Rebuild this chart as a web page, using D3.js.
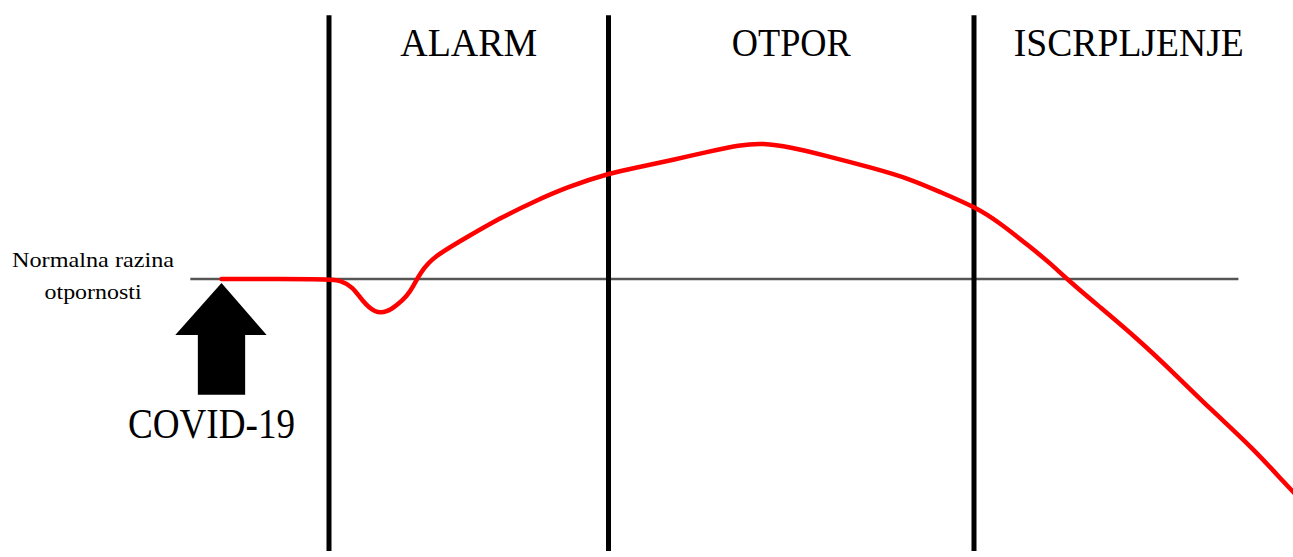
<!DOCTYPE html>
<html>
<head>
<meta charset="utf-8">
<script src="https://cdn.jsdelivr.net/npm/d3@7/dist/d3.min.js"></script>
<style>
  html, body { margin: 0; padding: 0; background: #fff; }
  svg { display: block; }
  text { font-family: "Liberation Serif", "Times New Roman", serif; fill: #000; }
</style>
</head>
<body>
<svg id="chart" width="1293" height="557"></svg>
<script>
// ---- data ----
const phases = ["ALARM", "OTPOR", "ISCRPLJENJE"];
const phaseBounds = [10, 36, 70, 100];          // time units where each phase starts/ends
const normalLevel = 100;
const normalLabel = ["Normalna razina", "otpornosti"];
const stressorLabel = "COVID-19";
const curveTime  = [0, 10, 11.02, 12.23, 13.07, 14.28, 15.4, 16.33, 17.26, 17.81, 18.47, 19.67, 22.84, 25.91, 28.98, 32.14, 36.14, 38.93, 42, 45.16, 48.23, 50.37, 52.9, 55.98, 60.6, 64.05, 66.84, 70.1, 72.42, 75.21, 77.07, 78.74, 81.72, 85.16, 88.5, 91.95, 95.95, 99.12, 100];
const curveLevel = [100, 100, 99.6, 97.1, 92.0, 87.4, 87.8, 90.4, 93.8, 97.1, 102.2, 108.1, 115.4, 122.4, 128.3, 133.8, 139, 141.2, 143.8, 146.7, 149.3, 150, 148.5, 145.6, 140.8, 136.8, 132, 126.5, 120.6, 111.8, 105.9, 99.6, 89.7, 78.2, 65.8, 52.3, 37.8, 24.0, 20.5];

// ---- scales ----
const x = d3.scaleLinear().domain([0, 100]).range([221.5, 1296.5]);
const y = d3.scaleLinear().domain([0, 200]).range([551, 7]);

const svg = d3.select("#chart");

// normal level line
svg.append("line")
  .attr("x1", x(-2.9)).attr("x2", x(94.6))
  .attr("y1", y(normalLevel)).attr("y2", y(normalLevel))
  .attr("stroke", "#555").attr("stroke-width", 2.5);

// phase separators
svg.selectAll("line.sep").data(phaseBounds.slice(0, 3)).join("line")
  .attr("class", "sep")
  .attr("x1", d => x(d)).attr("x2", d => x(d))
  .attr("y1", y(0)).attr("y2", y(197))
  .attr("stroke", "#000").attr("stroke-width", 5);

// phase labels
const labelWidths = [137, 119, 230];
svg.selectAll("text.phase").data(phases).join("text")
  .attr("class", "phase")
  .attr("x", (d, i) => (x(phaseBounds[i]) + x(phaseBounds[i + 1] - (i === 2 ? 1.2 : 0))) / 2)
  .attr("y", y(182))
  .attr("text-anchor", "middle")
  .attr("font-size", 40)
  .attr("textLength", (d, i) => labelWidths[i])
  .attr("lengthAdjust", "spacingAndGlyphs")
  .text(d => d);

// resistance curve
const pts = curveTime.map((t, i) => [t, curveLevel[i]]);
svg.append("path")
  .datum(pts)
  .attr("d", d3.line().x(d => x(d[0])).y(d => y(d[1])).curve(d3.curveBasis))
  .attr("fill", "none").attr("stroke", "#ff0000").attr("stroke-width", 4.5)
  .attr("stroke-linejoin", "round").attr("stroke-linecap", "round");

// stressor arrow
const arrow = [[0, 98.5], [4.2, 79.4], [2.2, 79.4], [2.2, 57.4], [-2.2, 57.4], [-2.2, 79.4], [-4.3, 79.4]];
svg.append("path")
  .attr("d", d3.line().x(d => x(d[0])).y(d => y(d[1]))(arrow) + "Z")
  .attr("fill", "#000");

svg.append("text")
  .attr("x", x(-0.93)).attr("y", y(41.5))
  .attr("text-anchor", "middle")
  .attr("font-size", 43)
  .attr("textLength", 167)
  .attr("lengthAdjust", "spacingAndGlyphs")
  .text(stressorLabel);

// normal level label
const normWidths = [162, 97];
svg.selectAll("text.norm").data(normalLabel).join("text")
  .attr("class", "norm")
  .attr("x", x(-11.95))
  .attr("y", (d, i) => y(normalLevel + 4.4 - i * 11.8))
  .attr("text-anchor", "middle")
  .attr("font-size", 21)
  .attr("textLength", (d, i) => normWidths[i])
  .attr("lengthAdjust", "spacingAndGlyphs")
  .text(d => d);
</script>
</body>
</html>
